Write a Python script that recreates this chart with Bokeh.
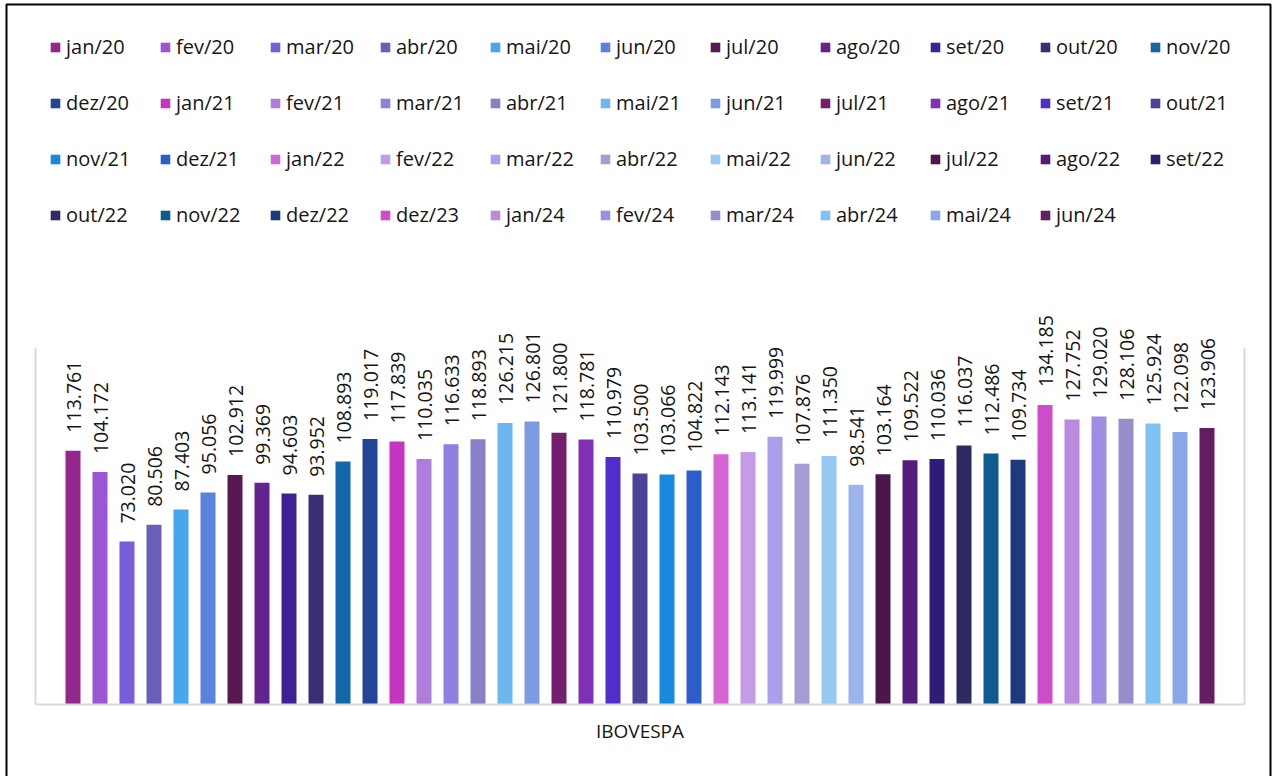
import math
from bokeh.plotting import figure
from bokeh.models import (ColumnDataSource, Legend, LegendItem, LabelSet, LinearAxis, Label,
                          FixedTicker, Range1d, BoxAnnotation)
from bokeh.core.properties import value
from bokeh.embed import file_html
from bokeh.resources import INLINE

months = ["jan/20", "fev/20", "mar/20", "abr/20", "mai/20", "jun/20", "jul/20", "ago/20",
          "set/20", "out/20", "nov/20", "dez/20", "jan/21", "fev/21", "mar/21", "abr/21",
          "mai/21", "jun/21", "jul/21", "ago/21", "set/21", "out/21", "nov/21", "dez/21",
          "jan/22", "fev/22", "mar/22", "abr/22", "mai/22", "jun/22", "jul/22", "ago/22",
          "set/22", "out/22", "nov/22", "dez/22", "dez/23", "jan/24", "fev/24", "mar/24",
          "abr/24", "mai/24", "jun/24"]

ibovespa = [113.761, 104.172, 73.020, 80.506, 87.403, 95.056, 102.912, 99.369,
            94.603, 93.952, 108.893, 119.017, 117.839, 110.035, 116.633, 118.893,
            126.215, 126.801, 121.800, 118.781, 110.979, 103.500, 103.066, 104.822,
            112.143, 113.141, 119.999, 107.876, 111.350, 98.541, 103.164, 109.522,
            110.036, 116.037, 112.486, 109.734, 134.185, 127.752, 129.020, 128.106,
            125.924, 122.098, 123.906]

colors = ["#93278e", "#9b57d3", "#775ddb", "#6a5fb8", "#46a6ee", "#5a82dc", "#591853", "#62248e",
          "#3b2394", "#383073", "#1068aa", "#224597", "#c535c0", "#b07cdc", "#8f7fe2", "#8780c6",
          "#6bb8f1", "#7b9be3", "#741f6d", "#7f30b4", "#4f2ec9", "#4a4396", "#168ade", "#2c5ec9",
          "#d465d3", "#c49be6", "#ab9eea", "#a49fd3", "#94c9f4", "#9bb4ea", "#4b174a", "#531d7b",
          "#301b7b", "#2f2a5f", "#0f5a8e", "#1c3b7e", "#cf4ccb", "#ba8ade", "#9e8de3", "#968eca",
          "#7ec1f2", "#8aa8e7", "#641c63"]

axis_title = "IBOVESPA"
y_max = 160

FONT = "Open Sans"
TXT = "#161616"
W, H = 1274, 776
PX_X = 27.0                 # pixels per category
PX_Y = 357.0 / y_max        # pixels per unit
x0 = -72.5 / PX_X
y0 = -(H - 704.0) / PX_Y
pad = 1.39                  # plot-area padding in category units

xs = list(range(len(months)))
labels = [f"{v:.3f}" for v in ibovespa]
src = ColumnDataSource(dict(x=xs, y=ibovespa, color=colors, month=months, lab=labels))

p = figure(width=W, height=H, output_backend="svg", toolbar_location=None,
           x_range=Range1d(x0, x0 + W / PX_X), y_range=Range1d(y0, y0 + H / PX_Y),
           min_border=0, x_axis_type=None, y_axis_type=None)
p.outline_line_color = None
p.xgrid.visible = False
p.ygrid.visible = False
p.background_fill_color = "white"
p.border_fill_color = "white"

r = p.vbar(x="x", top="y", width=0.555, fill_color="color", line_color=None, source=src)

labs = LabelSet(x="x", y="y", text="lab", source=src, angle=math.pi / 2,
                text_align="left", text_baseline="middle", y_offset=18, x_offset=1,
                text_font=value(FONT), text_font_size="19.5px", text_color=TXT)
p.add_layout(labs)

# plot-area frame lines (axes without ticks, pinned to data positions)
grey = "#d9d9d9"
x_lo, x_hi = -pad, len(months) - 1 + pad
bottom_ax = LinearAxis(ticker=FixedTicker(ticks=[]), fixed_location=0, bounds=(x_lo, x_hi),
                       axis_line_color=grey, axis_line_width=2,
                       major_tick_line_color=None, minor_tick_line_color=None,
                       major_label_text_font_size="0px")
p.add_layout(bottom_ax, "below")
for loc in (x_lo, x_hi):
    ax = LinearAxis(ticker=FixedTicker(ticks=[]), fixed_location=loc, bounds=(0, y_max),
                    axis_line_color=grey, axis_line_width=2,
                    major_tick_line_color=None, minor_tick_line_color=None,
                    major_label_text_font_size="0px")
    p.add_layout(ax, "left")

title = Label(x=(len(months) - 1) / 2, y=0, y_offset=-26, text=axis_title,
              text_align="center", text_baseline="middle",
              text_font=FONT, text_font_size="19px", text_color=TXT)
p.add_layout(title)

items = [LegendItem(label=m, renderers=[r], index=i) for i, m in enumerate(months)]
legend = Legend(items=items, location=(49, H - 231), orientation="horizontal", ncols=11,
                glyph_width=12, glyph_height=12, label_standoff=5, label_width=70,
                label_height=33, spacing=23, padding=0, margin=0,
                border_line_color=None, background_fill_alpha=0,
                label_text_font=FONT, label_text_font_size="20px", label_text_color=TXT)
p.add_layout(legend)

border = BoxAnnotation(left=6, right=1270, top=4, bottom=H + 50,
                       left_units="canvas", right_units="canvas",
                       top_units="canvas", bottom_units="canvas",
                       fill_alpha=0, line_color="black", line_alpha=1.0, line_width=2,
                       level="overlay")
p.add_layout(border)

open("out.html", "w").write(file_html(p, INLINE))
